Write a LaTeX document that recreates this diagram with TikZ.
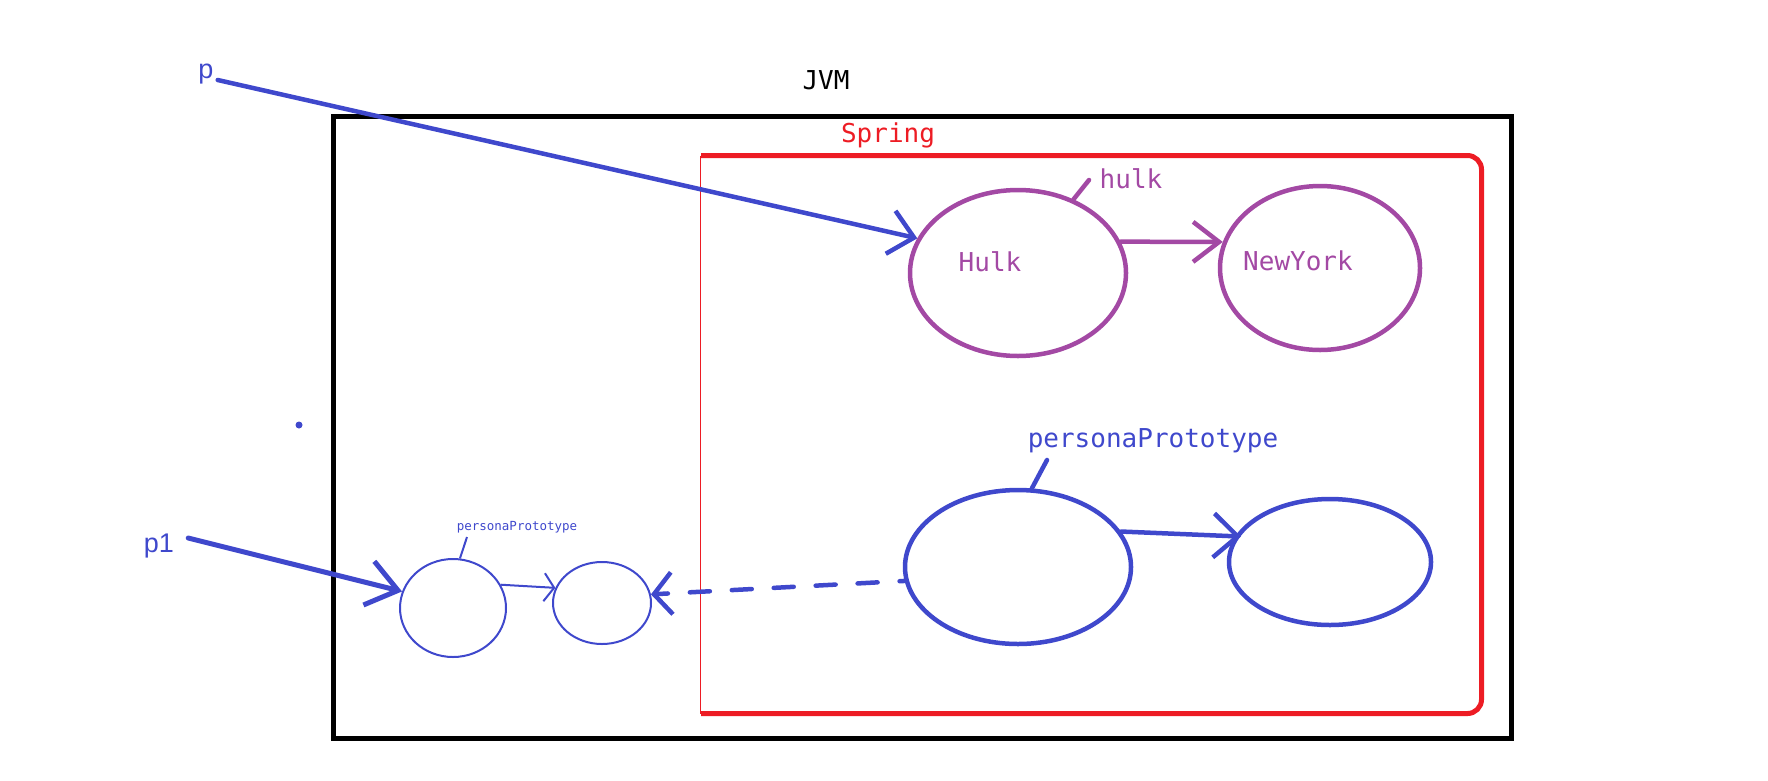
\documentclass[tikz,border=0pt]{standalone}
\usepackage{fontspec}
\setmonofont{DejaVu Sans Mono}
\setsansfont{Liberation Sans}
\usetikzlibrary{arrows.meta,shapes.geometric}
\definecolor{jblue}{RGB}{63,72,204}
\definecolor{jpurple}{RGB}{163,73,164}
\definecolor{jred}{RGB}{237,28,36}
\newcommand{\codefont}{\ttfamily\fontsize{26}{30}\selectfont}
\newcommand{\tinycode}{\ttfamily\fontsize{12.5}{14}\selectfont}
\newcommand{\varfont}{\sffamily\fontsize{27}{32}\selectfont}
\tikzset{
  bean/.style={ellipse, draw, line width=4.5pt, inner sep=0pt},
  copybean/.style={ellipse, draw=jblue, line width=2pt, inner sep=0pt},
  lbl/.style={inner sep=0pt, font=\codefont},
  ref/.style={line width=4.5pt, line cap=round},
}
\begin{document}
\begin{tikzpicture}[x=1pt,y=-1pt]
	\useasboundingbox (0,0) rectangle (1768,780);
	% JVM and the Spring container
	\draw[line width=5pt] (333.5,116.5) rectangle (1511.5,738.5);
	\node[lbl] (jvm) at (826,80) {JVM};
	\draw[jred, line width=5pt, rounded corners=14pt] (701,155.5) -- (1481.5,155.5) -- (1481.5,713.5) -- (701,713.5);
	\draw[jred, line width=1pt] (700.5,155.5) -- (700.5,713.5);
	\node[lbl, text=jred] (spring) at (888,135) {Spring};
	% singleton beans
	\node[bean, draw=jpurple, minimum width=216pt, minimum height=166pt] (hulk) at (1018,273) {};
	\node[bean, draw=jpurple, minimum width=200pt, minimum height=164pt] (newyork) at (1320,268) {};
	\node[lbl, text=jpurple] (hulktxt) at (990,262) {Hulk};
	\node[lbl, text=jpurple] (newyorktxt) at (1298,261) {NewYork};
	\node[lbl, text=jpurple] (hulkname) at (1131,179) {hulk};
	\coordinate (hulktick) at (1089,180);
	\draw[jpurple, ref] (hulk.53) -- (hulktick);
	\draw[jpurple, ref, -{Straight Barb[length=26pt,width=40pt]}] (hulk.17) -- (newyork.165);
	% prototype beans
	\node[bean, draw=jblue, minimum width=226pt, minimum height=154pt] (proto) at (1018,567) {};
	\node[bean, draw=jblue, minimum width=202pt, minimum height=126pt] (protoref) at (1330,562) {};
	\node[lbl, text=jblue] (protoname) at (1153,441) {personaPrototype};
	\coordinate (prototick) at (1047,460);
	\draw[jblue, ref] (proto.80) -- (prototick);
	\draw[jblue, ref, -{Straight Barb[length=24pt,width=44pt]}] (proto.19) -- ([xshift=6pt]protoref.165);
	% the copy handed out
	\node[copybean, minimum width=106pt, minimum height=98pt] (copy) at (453,608) {};
	\node[copybean, minimum width=98pt, minimum height=82pt] (copyref) at (602,603) {};
	\node[inner sep=0pt, font=\tinycode, text=jblue] (copyname) at (517,527) {personaPrototype};
	\coordinate (copytick) at (467,537);
	\draw[jblue, line width=2pt] (copy.82) -- (copytick);
	\draw[jblue, line width=2pt, -{Straight Barb[length=10pt,width=28pt]}] (copy.26) -- (copyref.162);
	\draw[jblue, ref, dash pattern=on 20pt off 22pt, dash phase=15pt, -{Straight Barb[length=18pt,width=42pt]}] (proto.187) -- (copyref.10);
	% references
	\node[inner sep=4pt, font=\varfont, text=jblue] (p) at (206,74) {p};
	\node[inner sep=4pt, font=\varfont, text=jblue] (pone) at (159,546) {p1};
	\draw[jblue, ref, -{Straight Barb[length=24pt,width=44pt]}] ([yshift=-6pt]p.east) -- (hulk.161);
	\draw[jblue, ref, line width=5pt, -{Straight Barb[length=30pt,width=45pt]}] ([shift={(10pt,8pt)}]pone.east) -- (copy.162);
	\fill[jblue] (299,425) circle (3.5pt);
\end{tikzpicture}
\end{document}
